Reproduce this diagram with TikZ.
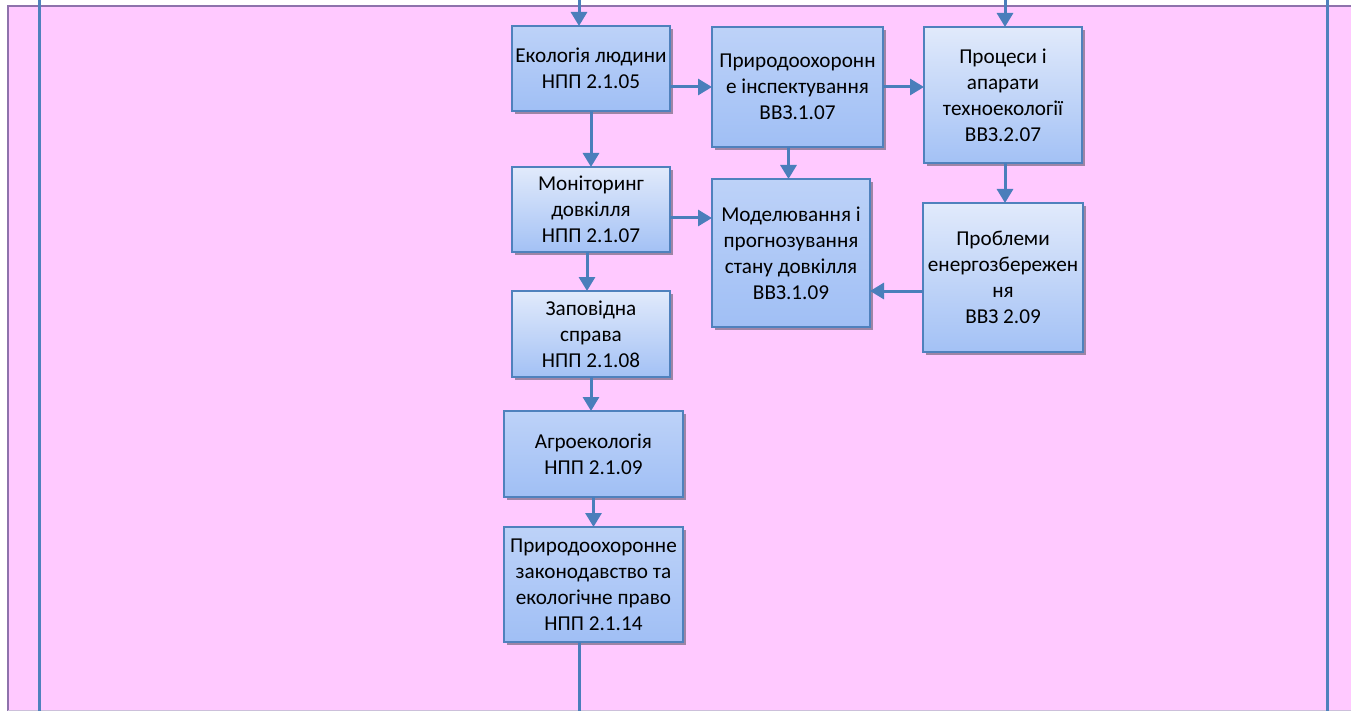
\documentclass[tikz,border=0pt]{standalone}
\usepackage{fontspec}
\setmainfont{Carlito}
\usetikzlibrary{arrows.meta,shadows,calc}
\definecolor{pinkbg}{HTML}{FFC9FF}
\definecolor{purpleb}{HTML}{8E72AC}
\definecolor{lineb}{HTML}{4A7EBB}
\definecolor{boxb}{HTML}{4F81BD}
\definecolor{shad}{HTML}{9E85A6}
\definecolor{gtopA}{HTML}{E1EAFB}
\definecolor{gbotA}{HTML}{A3C1F5}
\definecolor{gtopB}{HTML}{BDD2F8}
\definecolor{gbotB}{HTML}{A0BFF5}
\tikzset{
  box/.style={draw=boxb, line width=2.4pt, inner sep=2pt, outer sep=0pt,
    align=center, font=\fontsize{21.2}{26}\selectfont,
    drop shadow={shadow xshift=3pt, shadow yshift=-3pt, fill=shad, opacity=1}},
  boxA/.style={box, top color=gtopA, bottom color=gbotA},
  boxB/.style={box, top color=gtopB, bottom color=gbotB},
  conn/.style={draw=lineb, line width=3pt, -{Triangle[length=14pt,width=16pt]}},
  plain/.style={draw=lineb, line width=3pt},
}
\begin{document}
\begin{tikzpicture}[x=1pt,y=-1pt]
\useasboundingbox (0,0) rectangle (1351,711);
% background
\fill[pinkbg] (7.5,6.5) rectangle (1355,710);
\draw[purpleb, line width=2pt] (1355,6.5) -- (7.5,6.5) -- (7.5,711);
\draw[purpleb!45, line width=1.5pt] (7.5,710.5) -- (1355,710.5);
\draw[boxb, line width=2.6pt] (39.5,0) -- (39.5,711);
\draw[boxb, line width=2.6pt] (1327.5,0) -- (1327.5,711);
% nodes
\node[boxB, minimum width=158pt, minimum height=85pt] (ecol) at (591,68.5) {Екологія людини\\НПП 2.1.05};
\node[boxA, minimum width=158pt, minimum height=85pt] (mon) at (591,209.5) {Моніторинг\\довкілля\\НПП 2.1.07};
\node[boxA, minimum width=158pt, minimum height=86pt] (zap) at (591,334) {Заповідна\\справа\\НПП 2.1.08};
\node[boxB, minimum width=179pt, minimum height=86pt] (agro) at (593.5,454) {Агроекологія\\ НПП 2.1.09};
\node[boxB, minimum width=179pt, minimum height=115pt] (law) at (593.5,584.5) {Природоохоронне\\законодавство та\\екологічне право\\НПП 2.1.14};
\node[boxB, minimum width=171pt, minimum height=120pt] (pin) at (797.5,87) {Природоохоронн\\е інспектування\\ВВЗ.1.07};
\node[boxB, minimum width=158pt, minimum height=148pt] (mod) at (791,253) {Моделювання і\\прогнозування\\стану довкілля\\ВВЗ.1.09};
\node[boxA, minimum width=158pt, minimum height=136pt] (proc) at (1003,95) {Процеси і\\апарати\\техноекології\\ВВЗ.2.07};
\node[boxA, minimum width=160pt, minimum height=149pt] (en) at (1003,277.5) {Проблеми\\енергозбережен\\ня\\ВВЗ 2.09};
% free ends and connector points
\coordinate (topA) at (579,0);
\coordinate (topB) at (1005,0);
\coordinate (botA) at (579,711);
\coordinate (m1) at ($(mon.east)+(0,8.5)$);
\coordinate (e1) at ($(en.west)+(0,13.5)$);
\coordinate (p1) at ($(pin.south)+(-9,0)$);
% connectors
\draw[conn] (topA) -- (topA |- ecol.north);
\draw[conn] (topB) -- (topB |- proc.north);
\draw[conn] (ecol.south) -- (mon.north);
\draw[conn] ([xshift=-4pt]mon.south) -- ([xshift=-4pt]zap.north);
\draw[conn] (zap.south) -- (zap.south |- agro.north);
\draw[conn] (agro.south) -- (law.north);
\draw[plain] (botA |- law.south) -- (botA);
\draw[conn] (pin.west -| ecol.east) -- (pin.west);
\draw[conn] (pin.east) -- (pin.east -| proc.west);
\draw[conn] (p1) -- (p1 |- mod.north);
\draw[conn] (m1) -- (m1 -| mod.west);
\draw[conn] ([xshift=2pt]proc.south) -- ([xshift=2pt]en.north);
\draw[conn] (e1) -- (e1 -| mod.east);
\end{tikzpicture}
\end{document}
